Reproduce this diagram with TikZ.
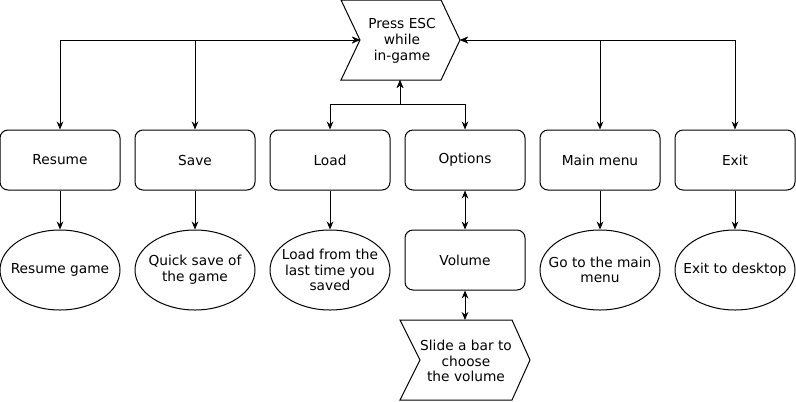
\documentclass[tikz,border=0pt]{standalone}
\usepackage{fontspec}
\setmainfont{DejaVu Sans}
\usetikzlibrary{shapes.geometric,arrows.meta}
\begin{document}
\begin{tikzpicture}[x=0.75pt,y=-0.75pt,line width=0.75pt,
  every node/.style={font=\fontsize{10.3pt}{11.8pt}\selectfont, align=center},
  box/.style={draw, rounded corners=6pt, minimum width=90pt, minimum height=45pt, inner sep=0pt},
  oval/.style={draw, ellipse, minimum width=90pt, minimum height=60pt, inner sep=-12pt},
  arr/.style={-{Stealth[length=6pt,width=5pt]}},
  darr/.style={{Stealth[length=6pt,width=5pt]}-{Stealth[length=6pt,width=5pt]}}]
\useasboundingbox (0,0) rectangle (796,401);
% top chevron
\draw (341,0) -- (441,0) -- (460,40) -- (441,80) -- (341,80) -- (360,40) -- cycle;
\node (esc) at (402,41) {Press ESC\\while\\in-game};
\coordinate (escL) at (360,40);
\coordinate (escR) at (460,40);
\coordinate (escB) at (400,80);
% bottom chevron
\draw (400,320) -- (512,320) -- (530,360) -- (512,400) -- (400,400) -- (420,360) -- cycle;
\node (slide) at (466,361) {Slide a bar to\\choose\\the volume};
\coordinate (slideT) at (465,320);
% boxes
\node[box] (resume) at (60,160) {Resume};
\node[box] (save) at (195,160) {Save};
\node[box] (load) at (330,160) {Load};
\node[box] (options) at (465,160) {Options};
\node[box] (mainm) at (600,160) {Main menu};
\node[box] (exit) at (735,160) {Exit};
\node[box] (volume) at (465,260) {Volume};
% ovals
\node[oval] (e1) at (60,270) {Resume game};
\node[oval] (e2) at (195,270) {Quick save of\\the game};
\node[oval] (e3) at (330,270) {Load from the\\last time you\\saved};
\node[oval] (e5) at (600,270) {Go to the main\\menu};
\node[oval] (e6) at (735,270) {Exit to desktop};
% connectors from top chevron
\draw[darr] (escL) -| (resume.north);
\draw[darr] (escL) -| (save.north);
\draw[darr] (escR) -| (mainm.north);
\draw[darr] (escR) -| (exit.north);
\draw[darr] (escB) |- ([yshift=18.75pt]load.north) -- (load.north);
\draw[darr] (escB) |- ([yshift=18.75pt]options.north) -- (options.north);
% box to oval
\draw[arr] (resume) -- (e1);
\draw[arr] (save) -- (e2);
\draw[arr] (load) -- (e3);
\draw[arr] (mainm) -- (e5);
\draw[arr] (exit) -- (e6);
\draw[darr] (options) -- (volume);
\draw[darr] (volume.south) -- (slideT);
\end{tikzpicture}
\end{document}
